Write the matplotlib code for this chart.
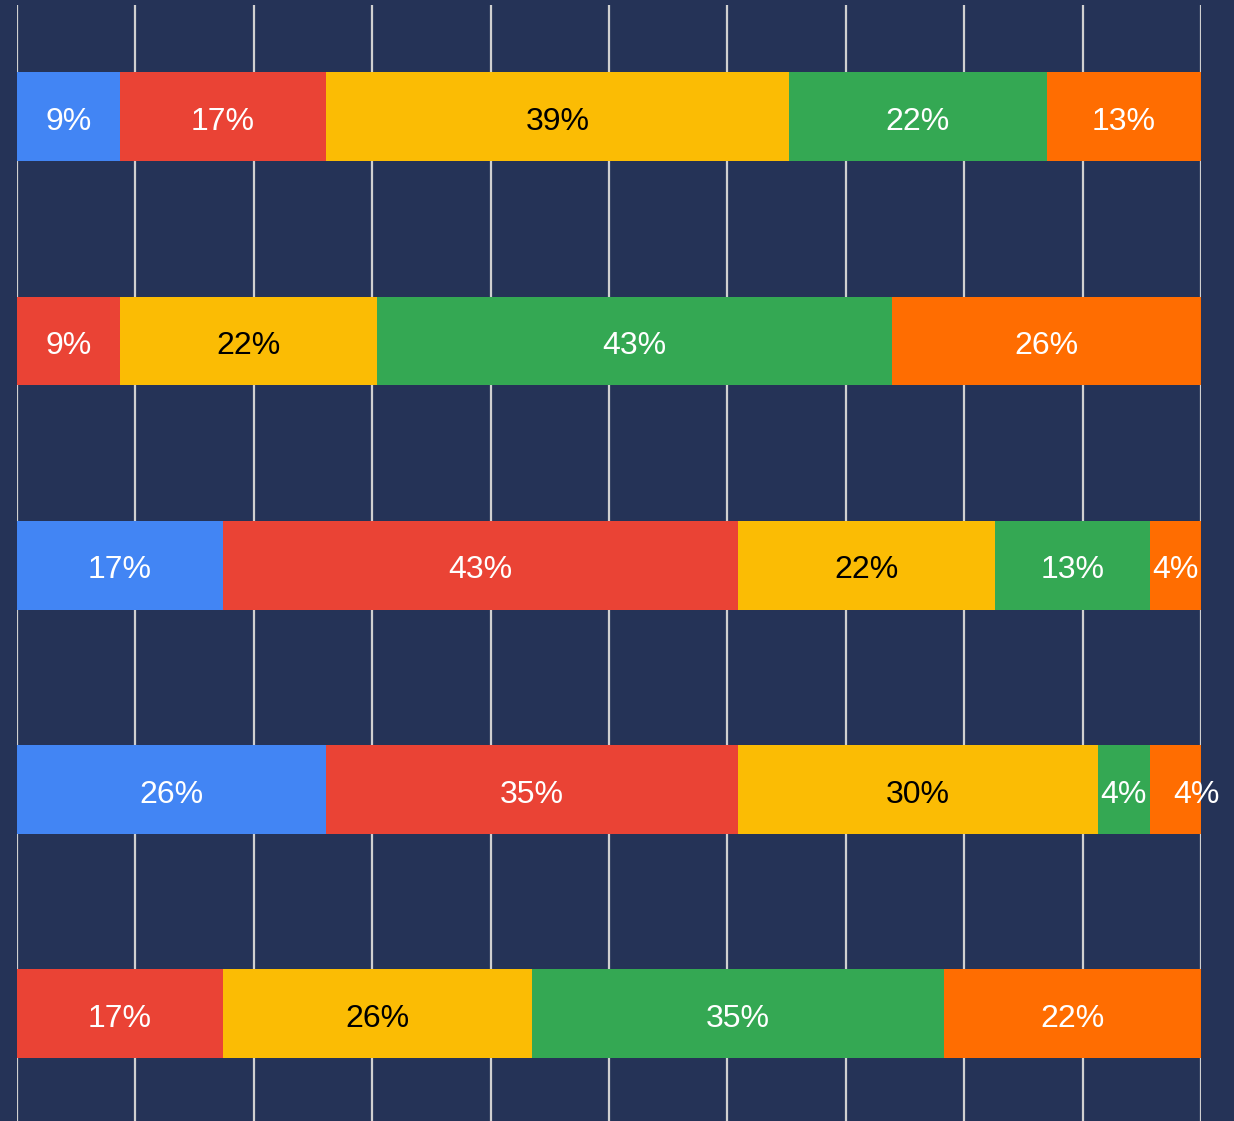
import matplotlib
matplotlib.use("Agg")
import matplotlib.pyplot as plt
import numpy as np

# Data (counts out of 23 respondents per row)
rows = ["Q1", "Q2", "Q3", "Q4", "Q5"]
series = ["1", "2", "3", "4", "5"]
s1 = [2, 0, 4, 6, 0]
s2 = [4, 2, 10, 8, 4]
s3 = [9, 5, 5, 7, 6]
s4 = [5, 10, 3, 1, 8]
s5 = [3, 6, 1, 1, 5]
colors = ["#4285F4", "#EA4335", "#FBBC04", "#34A853", "#FF6D01"]
text_colors = ["white", "white", "black", "white", "white"]

data = np.array([s1, s2, s3, s4, s5], dtype=float)
totals = data.sum(axis=0)
pct = data / totals * 100

bg = "#253357"
fig = plt.figure(figsize=(12.34, 11.21), dpi=100, facecolor=bg)
W, H = 1234, 1121
ax = fig.add_axes([17 / W, (H - 1126) / H, (1201 - 17) / W, (1126 - 4.5) / H])
ax.set_facecolor(bg)

y = np.arange(len(rows))
left = np.zeros(len(rows))
for i in range(len(series)):
    ax.barh(y, pct[i], left=left, height=0.396, color=colors[i], zorder=3, linewidth=0)
    for j in range(len(rows)):
        if data[i, j] > 0:
            xc = left[j] + pct[i, j] / 2
            # nudge last tiny label if previous segment also tiny
            if i == 4 and data[i, j] == 1 and data[i - 1, j] == 1:
                xc += 1.8
            ax.annotate(f"{round(pct[i, j])}%", (xc, y[j]), xytext=(0, -9.5),
                        textcoords="offset points", ha="center", va="baseline",
                        color=text_colors[i], fontsize=23, family="Liberation Sans", zorder=4)
    left += pct[i]

ax.set_xlim(0, 100)
ax.set_ylim(len(rows) - 0.5, -0.5)
ax.set_xticks(np.arange(0, 101, 10))
ax.grid(axis="x", color="#d0d0d0", linewidth=1.6, zorder=1)
ax.tick_params(left=False, bottom=False, labelleft=False, labelbottom=False)
for s in ax.spines.values():
    s.set_visible(False)

fig.savefig("out.png", dpi=100, facecolor=bg)
